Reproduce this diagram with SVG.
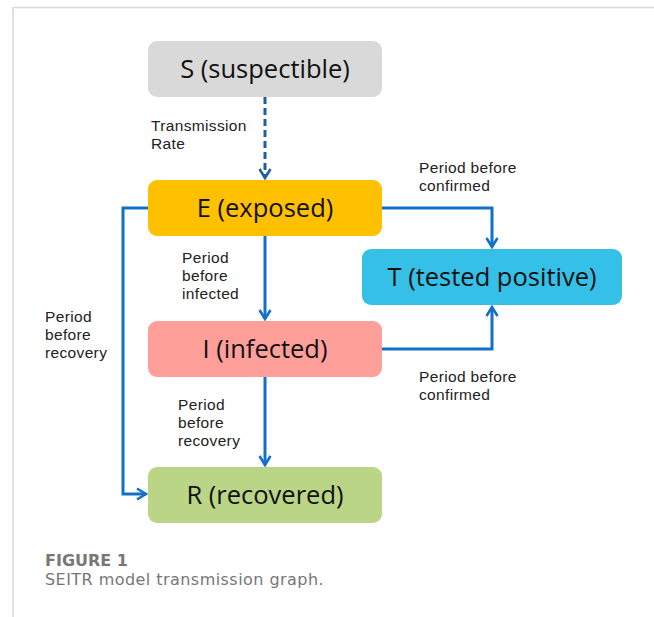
<svg xmlns="http://www.w3.org/2000/svg" width="654" height="617" viewBox="0 0 654 617">
<style>
.node{stroke:none}
.nl{font-family:"Open Sans","Noto Sans",sans-serif;font-size:25.5px;fill:#111;text-anchor:middle}
.el{font-family:"Liberation Sans",Arial,sans-serif;font-size:15.5px;fill:#222;letter-spacing:0.35px}
.c{fill:none;stroke:#1370c8;stroke-width:3}
.d{fill:none;stroke:#1e5fa0;stroke-width:3;stroke-dasharray:7,4}
.cap{font-family:"DejaVu Sans",sans-serif;font-size:16px;fill:#777}
</style>
<defs>
<marker id="ah" viewBox="0 0 14 14" refX="12" refY="7" markerWidth="14" markerHeight="14" markerUnits="userSpaceOnUse" orient="auto">
<path d="M3,1.5 L12,7 L3,12.5" fill="none" stroke="#1370c8" stroke-width="2.6"/>
</marker>
<marker id="ahd" viewBox="0 0 14 14" refX="12" refY="7" markerWidth="14" markerHeight="14" markerUnits="userSpaceOnUse" orient="auto">
<path d="M3,1.5 L12,7 L3,12.5" fill="none" stroke="#1e5fa0" stroke-width="2.6"/>
</marker>
</defs>
<rect width="654" height="617" fill="#fff"/>
<path d="M13,617 V7.5 H654" fill="none" stroke="#d8d8d8" stroke-width="1.5"/>
<g id="connectors">
<path class="d" d="M265,97 V178" marker-end="url(#ahd)"/>
<path class="c" d="M265,236 V319" marker-end="url(#ah)"/>
<path class="c" d="M382,208 H492 V247" marker-end="url(#ah)"/>
<path class="c" d="M382,349 H492 V307" marker-end="url(#ah)"/>
<path class="c" d="M148,208 H123 V494 H146" marker-end="url(#ah)"/>
<path class="c" d="M265,377 V465" marker-end="url(#ah)"/>
<text class="el" x="151" y="131">Transmission</text>
<text class="el" x="151" y="149">Rate</text>
<text class="el" x="182" y="263">Period</text>
<text class="el" x="182" y="281">before</text>
<text class="el" x="182" y="299">infected</text>
<text class="el" x="419" y="173">Period before</text>
<text class="el" x="419" y="191">confirmed</text>
<text class="el" x="419" y="382">Period before</text>
<text class="el" x="419" y="400">confirmed</text>
<text class="el" x="45" y="322">Period</text>
<text class="el" x="45" y="340">before</text>
<text class="el" x="45" y="358">recovery</text>
<text class="el" x="178" y="410">Period</text>
<text class="el" x="178" y="428">before</text>
<text class="el" x="178" y="446">recovery</text>
</g>
<g id="S"><rect class="node" x="148" y="41" width="234" height="56" rx="9" fill="#d9d9d9"/><text class="nl" x="265" y="78">S (suspectible)</text></g>
<g id="E"><rect class="node" x="148" y="180" width="234" height="56" rx="9" fill="#ffc000"/><text class="nl" x="265" y="217">E (exposed)</text></g>
<g id="T"><rect class="node" x="362" y="249" width="260" height="56" rx="9" fill="#35c0e8"/><text class="nl" x="492" y="286">T (tested positive)</text></g>
<g id="I"><rect class="node" x="148" y="321" width="234" height="56" rx="9" fill="#ff9f9a"/><text class="nl" x="265" y="358">I (infected)</text></g>
<g id="R"><rect class="node" x="148" y="467" width="234" height="56" rx="9" fill="#b9d585"/><text class="nl" x="265" y="504">R (recovered)</text></g>
<text class="cap" x="45" y="566" font-weight="bold" fill="#666">FIGURE 1</text>
<text class="cap" x="45" y="585" letter-spacing="0.45">SEITR model transmission graph.</text>
</svg>
